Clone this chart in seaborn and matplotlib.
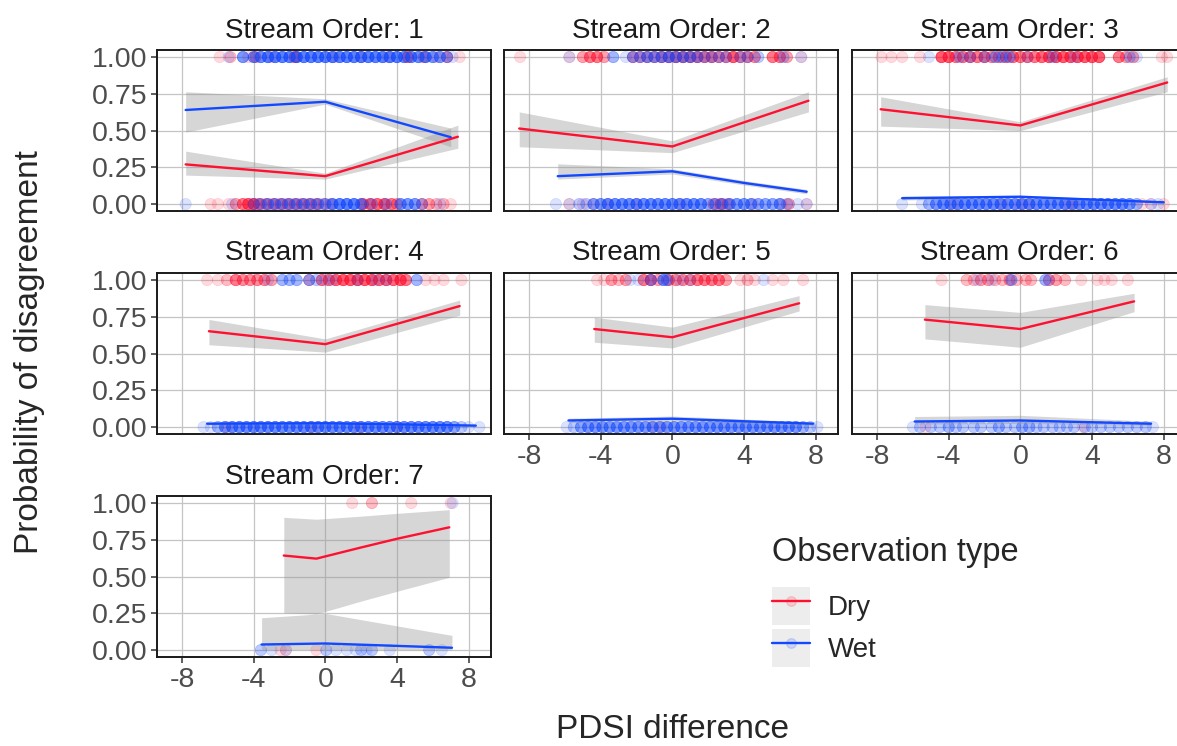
import numpy as np
import pandas as pd
import matplotlib
matplotlib.use("Agg")
import matplotlib.pyplot as plt
from matplotlib.patches import Rectangle
from matplotlib.lines import Line2D
from matplotlib.legend_handler import HandlerTuple
import seaborn as sns

sns.set_style("white")
plt.rcParams["font.family"] = ["Liberation Sans", "DejaVu Sans"]

stream_orders = [1, 2, 3, 4, 5, 6, 7]
obs_types = ["Dry", "Wet"]
type_colors = {"Dry": "#FF1030", "Wet": "#1248FF"}

x_ticks = [-8, -4, 0, 4, 8]
y_ticks = [0.0, 0.25, 0.5, 0.75, 1.0]

# Observations: PDSI difference positions and how many observations sit there,
# split by observation type and disagreement outcome (1 = disagree, 0 = agree).
dry_disagree_x = [
    [-5.9, -5.3, -4.3, -3.9, -3.0, -1.7, 0.5, 2.0, 3.5, 4.6, 5.5, 6.2, 6.8, 7.5],
    [-8.5, -5.75, -5.0, -4.6, -4.2, -3.8, -2.2, -1.8, -1.4, -1.0, -0.6, -0.2, 0.2, 0.6, 1.0, 1.4,
     1.8, 2.2, 2.6, 3.0, 3.4, 3.8, 4.2, 4.6, 5.6, 6.0, 6.4, 7.2],
    [-7.75, -7.2, -6.6, -5.6, -4.4, -4.0, -3.6, -3.2, -2.8, -2.4, -2.0, -1.6, -1.2, -0.8, -0.4, 0.0,
     0.4, 0.8, 1.2, 1.6, 2.0, 2.4, 2.8, 3.2, 3.6, 4.0, 4.4, 5.5, 5.9, 6.3, 7.9, 8.2],
    [-6.6, -6.0, -5.5, -5.0, -4.6, -4.2, -3.8, -3.4, -3.0, -0.9, -0.2, 0.2, 0.6, 1.0, 1.4, 1.8, 2.2,
     2.6, 3.0, 3.4, 3.8, 4.2, 4.5, 5.6, 6.1, 6.6, 7.6],
    [-4.2, -3.8, -3.4, -3.0, -2.6, -1.6, -1.2, -0.8, -0.2, 0.2, 0.6, 1.0, 1.4, 1.8, 2.2, 2.6, 3.0,
     3.8, 4.2, 4.6, 5.6, 6.2, 7.3],
    [-4.4, -3.0, -2.6, -2.2, -1.8, -1.4, -1.0, -0.6, -0.2, 0.3, 0.6, 1.6, 2.0, 2.5, 3.4, 4.3, 4.7,
     5.1, 6.0],
    [1.5, 2.6, 4.8, 7.0],
]
dry_disagree_n = [
    [1, 2, 1, 3, 1, 5, 1, 1, 1, 5, 3, 1, 3, 1],
    [1, 1, 3, 5, 5, 3, 3, 3, 3, 3, 4, 4, 5, 5, 5, 5, 5, 5, 4, 4, 7, 4, 4, 4, 5, 5, 3, 1],
    [1, 1, 1, 1, 7, 7, 5, 5, 5, 5, 5, 4, 4, 5, 5, 5, 5, 5, 6, 7, 7, 7, 7, 7, 7, 7, 7, 5, 3, 3, 1, 1],
    [1, 1, 2, 5, 4, 4, 4, 4, 3, 2, 5, 5, 6, 7, 7, 7, 7, 7, 6, 6, 6, 7, 5, 1, 1, 1, 1],
    [1, 1, 3, 2, 3, 5, 5, 3, 4, 4, 4, 4, 5, 5, 5, 5, 3, 1, 2, 1, 1, 1, 1],
    [1, 2, 2, 3, 3, 2, 2, 3, 2, 2, 2, 3, 3, 2, 1, 1, 1, 1, 1],
    [1, 2, 1, 1],
]

wet_disagree_x = [
    [-5.4, -4.6, -4.0, -3.6, -3.2, -2.8, -2.4, -2.0, -1.6, -1.2, -0.8, -0.4, 0.0, 0.4, 0.8, 1.2, 1.6,
     2.0, 2.4, 2.8, 3.2, 3.6, 4.0, 4.4, 4.8, 5.2, 5.6, 6.0, 6.4, 6.8, 7.1],
    [-5.75, -3.3, -2.6, -2.2, -1.8, -1.4, -1.0, -0.6, -0.2, 0.2, 0.6, 1.0, 1.4, 1.8, 2.2, 2.6, 3.0,
     3.8, 4.2, 4.8, 6.2, 7.2],
    [-5.1, -3.4, -2.8, -2.0, -1.4, -1.0, -0.6, 0.4, 1.8, 3.0, 6.1, 6.5],
    [-3.2, -2.4, -2.0, -1.6, -0.9, -0.5, 0.0, 0.4, 1.8, 2.8, 3.4, 5.1],
    [-2.35, -1.9, -1.2, -0.5, -0.3, 0.4, 1.0, 5.1],
    [-2.4, -1.6, -0.5, 1.4, 1.6],
    [7.1],
]
wet_disagree_n = [
    [1, 5, 5, 6, 7, 7, 7, 7, 7, 7, 7, 7, 7, 7, 7, 7, 7, 7, 7, 7, 7, 7, 7, 6, 6, 6, 6, 5, 5, 3, 1],
    [1, 3, 1, 3, 3, 4, 4, 4, 5, 4, 4, 4, 3, 2, 2, 2, 2, 2, 2, 2, 2, 1],
    [1, 2, 2, 2, 3, 3, 3, 1, 2, 1, 2, 1],
    [1, 3, 3, 3, 3, 2, 1, 1, 1, 1, 1, 3],
    [1, 1, 3, 5, 3, 1, 1, 1],
    [1, 1, 3, 3, 1],
    [1],
]

dry_agree_x = [
    [-6.4, -6.0, -5.4, -5.0, -4.6, -4.3, -4.0, -3.7, -3.3, -2.9, -2.5, -2.1, -1.7, -1.3, -0.9, -0.5,
     -0.1, 0.3, 2.1, 2.5, 2.9, 3.3, 3.7, 4.0, 5.4, 5.8, 6.2, 6.6, 7.0],
    [-5.75, -5.0, -4.4, -3.6, -2.0, 0.5, 2.3, 2.7, 3.1, 4.5, 6.1, 6.5, 7.5],
    [-3.7, -1.0, 0.0, 0.5, 2.7, 3.0, 6.8, 7.3, 8.0],
    [-5.5, -0.7, 1.9, 4.0],
    [-1.1, -0.6],
    [-5.3, 3.5],
    [-2.5, -2.2, -0.5],
]
dry_agree_n = [
    [1, 1, 1, 3, 5, 7, 7, 5, 4, 4, 4, 4, 4, 4, 4, 4, 2, 2, 5, 6, 6, 6, 5, 3, 3, 3, 2, 2, 1],
    [1, 1, 1, 1, 1, 1, 3, 5, 3, 1, 1, 3, 1],
    [1, 1, 1, 1, 1, 1, 1, 1, 1],
    [1, 1, 1, 1],
    [1, 1],
    [1, 1],
    [1, 1, 1],
]

wet_agree_x = [
    [-7.8, -5.2, -4.0, -3.6, -3.2, -2.8, -2.4, -2.0, -1.6, -1.2, -0.8, -0.4, 0.0, 0.4, 0.8, 1.2, 1.6,
     2.0, 2.6, 3.4, 4.2, 4.6, 5.0, 5.4, 6.4],
    [-6.5, -5.75, -5.2, -4.8, -4.4, -4.0, -3.6, -3.2, -2.8, -2.4, -2.0, -1.6, -1.2, -0.8, -0.4, 0.0,
     0.4, 0.8, 1.2, 1.6, 2.0, 2.4, 2.8, 3.2, 3.6, 4.0, 4.4, 4.8, 5.2, 5.6, 6.0, 6.4, 7.0, 7.5],
    [-6.6, -5.5, -5.1, -4.7, -4.3, -3.9, -3.5, -3.1, -2.7, -2.3, -1.9, -1.5, -1.1, -0.7, -0.3, 0.1,
     0.5, 0.9, 1.3, 1.7, 2.1, 2.5, 2.9, 3.3, 3.7, 4.1, 4.5, 4.9, 5.3, 5.7, 6.1, 6.5, 7.3, 7.7],
    [-6.8, -6.4, -6.0, -5.6, -5.2, -4.8, -4.4, -4.0, -3.6, -3.2, -2.8, -2.4, -2.0, -1.6, -1.2, -0.8,
     -0.4, 0.0, 0.4, 0.8, 1.2, 1.6, 2.0, 2.4, 2.8, 3.2, 3.6, 4.0, 4.4, 4.8, 5.2, 5.6, 6.0, 6.4, 6.8,
     7.2, 7.6, 8.0, 8.6],
    [-5.9, -5.5, -5.1, -4.7, -4.3, -3.9, -3.5, -3.1, -2.7, -2.3, -1.9, -1.5, -1.1, -0.7, -0.3, 0.1,
     0.5, 0.9, 1.3, 1.7, 2.1, 2.5, 2.9, 3.3, 3.7, 4.1, 4.5, 4.9, 5.3, 5.7, 6.1, 6.5, 6.9, 7.3, 7.7, 8.1],
    [-6.0, -5.6, -5.0, -4.5, -4.0, -3.6, -3.2, -2.6, -2.2, -1.6, -1.2, -0.8, -0.3, 0.1, 0.5, 0.9, 1.3,
     1.8, 2.2, 2.6, 3.0, 3.6, 4.0, 4.5, 5.0, 5.5, 6.0, 6.5, 7.0, 7.4],
    [-3.6, -3.0, -2.2, 0.05, 0.6, 1.2, 1.7, 2.0, 2.3, 2.6, 3.6, 5.8, 6.5],
]
wet_agree_n = [
    [1, 1, 2, 3, 4, 4, 4, 4, 4, 4, 4, 4, 4, 6, 7, 7, 7, 5, 2, 2, 5, 5, 5, 2, 1],
    [1, 1, 2, 2, 4, 5, 6, 6, 6, 6, 6, 6, 6, 6, 6, 6, 6, 6, 6, 6, 4, 4, 4, 5, 5, 5, 5, 4, 4, 4, 5, 2,
     1, 1],
    [1, 1, 3, 5, 6, 6, 6, 6, 6, 6, 6, 6, 6, 6, 6, 6, 6, 6, 6, 6, 6, 6, 6, 6, 6, 6, 6, 6, 6, 6, 5, 3,
     1, 1],
    [1, 1, 3, 5, 6, 6, 6, 6, 6, 6, 6, 6, 6, 6, 6, 6, 6, 6, 6, 6, 6, 6, 6, 6, 6, 6, 6, 6, 6, 6, 6, 6,
     6, 6, 6, 4, 2, 1, 1],
    [1, 2, 4, 5, 5, 5, 5, 5, 5, 5, 5, 5, 5, 5, 5, 5, 5, 5, 5, 5, 5, 5, 5, 5, 5, 5, 5, 5, 5, 5, 5, 5,
     5, 3, 2, 1],
    [1, 2, 2, 2, 3, 2, 2, 2, 2, 2, 3, 2, 2, 3, 3, 2, 2, 2, 2, 2, 2, 2, 2, 2, 2, 2, 2, 2, 2, 1],
    [2, 1, 1, 2, 1, 1, 1, 2, 1, 2, 1, 2, 1],
]

# Fitted probability of disagreement with 95% confidence band.
dry_fit_x = [
    [-7.8, 0.0, 7.4],
    [-8.55, 0.0, 7.6],
    [-7.8, 0.0, 8.2],
    [-6.5, 0.0, 7.5],
    [-4.36, 0.0, 7.08],
    [-5.33, 0.0, 6.35],
    [-2.32, -0.5, 1.9, 4.0, 6.92],
]
dry_fit = [
    [0.27, 0.19, 0.458],
    [0.514, 0.392, 0.703],
    [0.645, 0.535, 0.827],
    [0.652, 0.564, 0.823],
    [0.667, 0.611, 0.842],
    [0.731, 0.667, 0.855],
    [0.643, 0.622, 0.695, 0.757, 0.835],
]
dry_lo = [
    [0.197, 0.17, 0.38],
    [0.39, 0.35, 0.627],
    [0.53, 0.50, 0.764],
    [0.56, 0.51, 0.76],
    [0.577, 0.538, 0.79],
    [0.60, 0.543, 0.785],
    [0.253, 0.245, 0.33, 0.40, 0.495],
]
dry_hi = [
    [0.36, 0.21, 0.537],
    [0.627, 0.43, 0.764],
    [0.73, 0.56, 0.866],
    [0.732, 0.60, 0.864],
    [0.747, 0.68, 0.894],
    [0.833, 0.78, 0.91],
    [0.903, 0.89, 0.91, 0.93, 0.955],
]

wet_fit_x = [
    [-7.8, 0.0, 7.0],
    [-6.4, 0.0, 4.0, 7.5],
    [-6.6, 0.0, 8.0],
    [-6.6, 0.0, 8.4],
    [-5.8, 0.0, 7.85],
    [-5.9, 0.0, 7.3],
    [-3.56, 0.0, 7.07],
]
wet_fit = [
    [0.64, 0.696, 0.455],
    [0.19, 0.223, 0.144, 0.084],
    [0.04, 0.05, 0.012],
    [0.023, 0.026, 0.01],
    [0.045, 0.057, 0.023],
    [0.038, 0.045, 0.023],
    [0.038, 0.045, 0.016],
]
wet_lo = [
    [0.49, 0.68, 0.39],
    [0.17, 0.205, 0.13, 0.07],
    [0.028, 0.04, 0.005],
    [0.015, 0.02, 0.004],
    [0.03, 0.04, 0.012],
    [0.02, 0.025, 0.012],
    [0.002, 0.003, 0.001],
]
wet_hi = [
    [0.764, 0.716, 0.517],
    [0.274, 0.24, 0.16, 0.10],
    [0.055, 0.06, 0.022],
    [0.033, 0.034, 0.018],
    [0.06, 0.075, 0.035],
    [0.072, 0.08, 0.04],
    [0.22, 0.249, 0.10],
]


def obs_frame(i):
    parts = []
    for typ, xs1, ns1, xs0, ns0 in [
        ("Dry", dry_disagree_x, dry_disagree_n, dry_agree_x, dry_agree_n),
        ("Wet", wet_disagree_x, wet_disagree_n, wet_agree_x, wet_agree_n),
    ]:
        parts.append(pd.DataFrame({"pdsi": np.repeat(xs1[i], ns1[i]), "disagree": 1.0, "type": typ}))
        parts.append(pd.DataFrame({"pdsi": np.repeat(xs0[i], ns0[i]), "disagree": 0.0, "type": typ}))
    return pd.concat(parts, ignore_index=True)


W, H = 1177, 746
fig = plt.figure(figsize=(W / 100, H / 100), dpi=100)

col_left = [157, 504, 852]
row_top = [50, 273, 496]
panel_w, panel_h = 334, 161

tick_fs = 20.5
grid_color = "#C4C4C4"

for i, order in enumerate(stream_orders):
    r, c = divmod(i, 3)
    ax = fig.add_axes([col_left[c] / W, 1 - (row_top[r] + panel_h) / H, panel_w / W, panel_h / H])
    ax.set_axisbelow(True)

    df = obs_frame(i)
    sns.scatterplot(data=df, x="pdsi", y="disagree", hue="type", hue_order=obs_types,
                    palette=type_colors, alpha=0.15, s=66, edgecolor="face", linewidth=0.5,
                    legend=False, ax=ax, zorder=2)

    for typ, fx, fy, lo, hi in [
        ("Dry", dry_fit_x[i], dry_fit[i], dry_lo[i], dry_hi[i]),
        ("Wet", wet_fit_x[i], wet_fit[i], wet_lo[i], wet_hi[i]),
    ]:
        ax.fill_between(fx, lo, hi, color="#999999", alpha=0.4, linewidth=0, zorder=3)
        sns.lineplot(x=fx, y=fy, color=type_colors[typ], linewidth=1.7, ax=ax, zorder=4,
                     estimator=None, sort=False)

    ax.set_xlim(-9.4, 9.25)
    ax.set_ylim(-0.047, 1.048)
    ax.set_xticks(x_ticks)
    ax.set_yticks(y_ticks)
    ax.grid(True, color=grid_color, linewidth=0.9)
    ax.set_xlabel("")
    ax.set_ylabel("")
    for sp in ax.spines.values():
        sp.set_color("#1a1a1a")
        sp.set_linewidth(1.4)

    show_y = (c == 0)
    show_x = (i >= 4)
    ax.tick_params(axis="y", left=show_y, labelleft=show_y, length=4, width=1.1,
                   color="#333333", labelcolor="#4D4D4D", labelsize=tick_fs, pad=3)
    ax.tick_params(axis="x", bottom=show_x, labelbottom=show_x, length=4, width=1.1,
                   color="#333333", labelcolor="#4D4D4D", labelsize=tick_fs, pad=3)
    ax.set_yticklabels([f"{v:.2f}" for v in y_ticks])
    ax.set_xticklabels([str(v) for v in x_ticks])
    ax.set_title(f"Stream Order: {order}", fontsize=20, color="#1a1a1a", pad=9)

fig.text(30 / W, 1 - 352 / H, "Probability of disagreement", rotation=90,
         ha="center", va="center", fontsize=24)
fig.text(672 / W, 1 - 745.5 / H, "PDSI difference", ha="center", va="bottom", fontsize=24)

# Legend: title plus gray-backed keys, as in a smooth-with-ribbon legend
fig.text(772 / W, 1 - 552 / H, "Observation type", ha="left", va="center", fontsize=23.5)

handles = []
for typ in obs_types:
    col = type_colors[typ]
    key_bg = Rectangle((0, 0), 1, 1, facecolor="#EDEDED", edgecolor="none")
    key_line = Line2D([], [], color=col, linewidth=1.7, marker="o", markersize=7,
                      markerfacecolor=matplotlib.colors.to_rgba(col, 0.15),
                      markeredgecolor=matplotlib.colors.to_rgba(col, 0.15))
    handles.append((key_bg, key_line))

fig.legend(handles, obs_types, handler_map={tuple: HandlerTuple(ndivide=1, pad=0)},
           fontsize=20, loc="upper left", bbox_to_anchor=(772 / W, 1 - 587 / H),
           frameon=False, borderpad=0, borderaxespad=0,
           handlelength=1.37, handleheight=1.73, handletextpad=0.65,
           labelspacing=0.15)

fig.savefig("out.png", dpi=100)
